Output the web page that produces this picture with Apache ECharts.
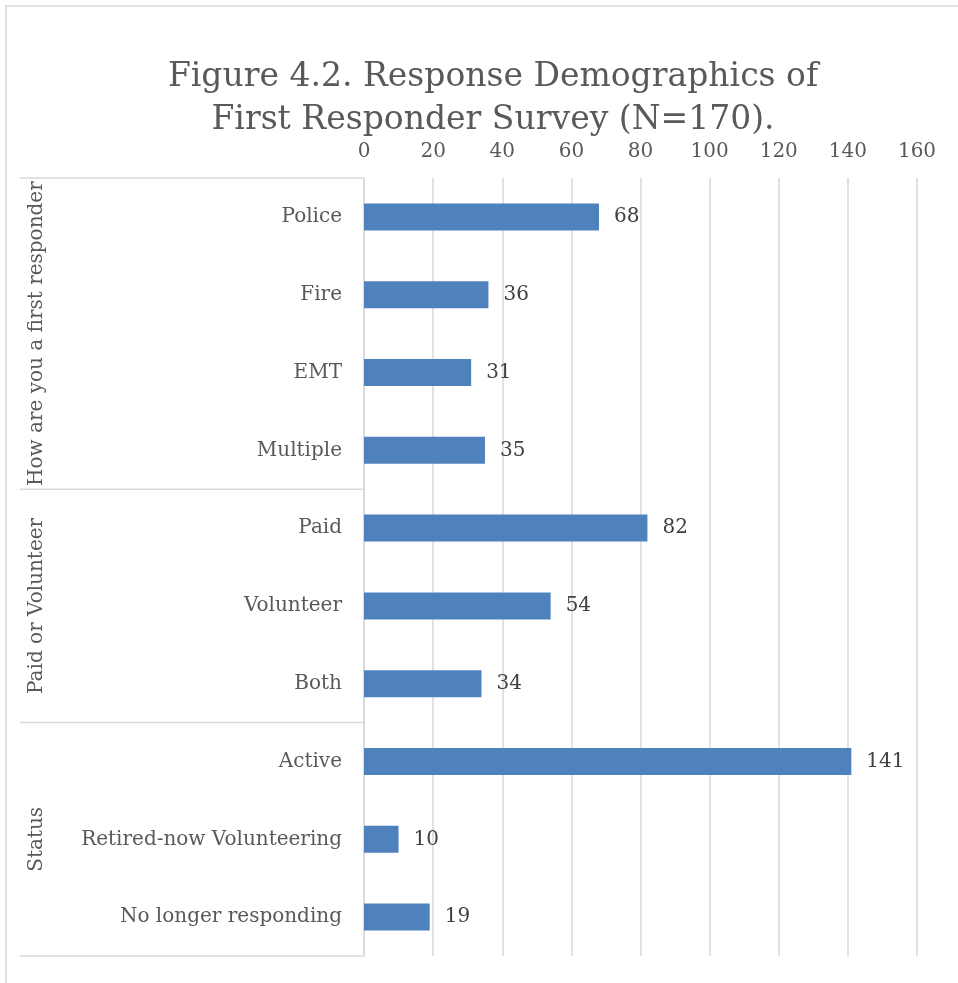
<!DOCTYPE html>
<html>
<head>
<meta charset="utf-8">
<script src="https://cdn.jsdelivr.net/npm/echarts@6/dist/echarts.min.js"></script>
<style>
  html, body { margin: 0; padding: 0; background: #fff; }
  #chart { width: 958px; height: 983px; }
</style>
</head>
<body>
<div id="chart"></div>
<script>
// 数据
var categories = ["Police", "Fire", "EMT", "Multiple", "Paid", "Volunteer", "Both",
  "Active", "Retired-now Volunteering", "No longer responding"];
var values = [68, 36, 31, 35, 82, 54, 34, 141, 10, 19];
var groups = ["How are you a first responder", "Paid or Volunteer", "Status"];
var groupSizes = [4, 3, 3];
var tickMax = 160;
var tickStep = 20;

var font = "DejaVu Serif";
var grey = "#595959";
var lineColor = "#d9d9d9";

var chart = echarts.init(document.getElementById("chart"));
chart.setOption({
  animation: false,
  title: {
    text: "Figure 4.2. Response Demographics of\nFirst Responder Survey (N=170).",
    left: 488,
    top: 51,
    textAlign: "center",
    textStyle: {
      fontFamily: font,
      fontSize: 33,
      fontWeight: "normal",
      color: grey,
      lineHeight: 43,
    },
  },
  grid: { left: 364, right: 41, top: 178, bottom: 27 },
  xAxis: {
    type: "value",
    position: "top",
    min: 0,
    max: tickMax,
    interval: tickStep,
    axisLine: { show: false },
    axisTick: { show: false },
    axisLabel: { color: grey, fontFamily: font, fontSize: 20, margin: 16 },
    splitLine: { lineStyle: { color: lineColor, width: 1.5 } },
  },
  yAxis: {
    type: "category",
    inverse: true,
    data: categories,
    axisLine: { show: true, lineStyle: { color: lineColor, width: 1.5 } },
    axisTick: { show: false },
    axisLabel: { color: grey, fontFamily: font, fontSize: 20, margin: 22 },
  },
  series: [
    {
      type: "bar",
      data: values,
      barWidth: 27,
      itemStyle: { color: "#4f81bd" },
      label: {
        show: true,
        position: "right",
        distance: 15,
        color: "#404040",
        fontFamily: font,
        fontSize: 20,
      },
    },
  ],
});

// 分组线和分组标题，位置由坐标轴换算
function drawGroups() {
  var y0 = chart.convertToPixel({ yAxisIndex: 0 }, categories[0]);
  var y1 = chart.convertToPixel({ yAxisIndex: 0 }, categories[1]);
  var band = y1 - y0;
  var bandTop = y0 - band / 2;
  var axisX = chart.convertToPixel({ xAxisIndex: 0 }, 0);
  var graphics = [
    {
      type: "rect",
      shape: { x: 6, y: 6, width: 1200, height: 1200 },
      style: { fill: "none", stroke: lineColor, lineWidth: 1.5 },
    },
    {
      type: "line",
      shape: { x1: 20, y1: bandTop, x2: axisX, y2: bandTop },
      style: { stroke: lineColor, lineWidth: 1.5 },
    },
  ];
  var start = 0;
  groups.forEach(function (g, i) {
    var gTop = bandTop + start * band;
    var gBottom = gTop + groupSizes[i] * band;
    graphics.push({
      type: "line",
      shape: { x1: 20, y1: gBottom, x2: axisX, y2: gBottom },
      style: { stroke: lineColor, lineWidth: 1.5 },
    });
    graphics.push({
      type: "text",
      x: 37,
      y: (gTop + gBottom) / 2,
      rotation: Math.PI / 2,
      style: {
        text: g,
        fill: grey,
        font: "20px '" + font + "'",
        align: "center",
        verticalAlign: "middle",
      },
    });
    start += groupSizes[i];
  });
  chart.setOption({ graphic: graphics });
}
drawGroups();
</script>
</body>
</html>
